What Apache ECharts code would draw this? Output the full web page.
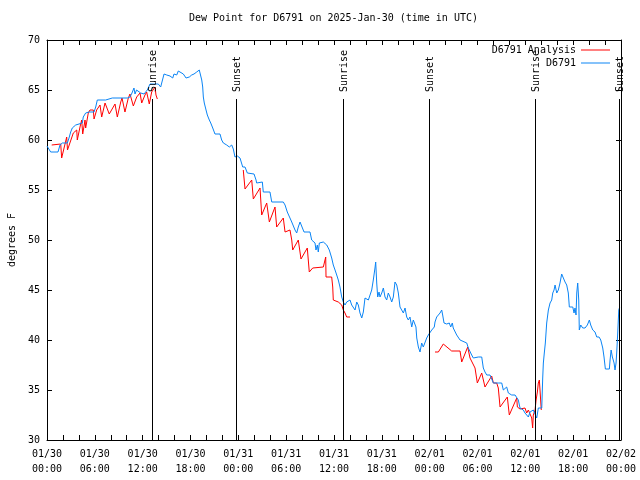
<!DOCTYPE html>
<html>
<head>
<meta charset="utf-8">
<script src="https://cdn.jsdelivr.net/npm/echarts@6/dist/echarts.min.js"></script>
<style>html,body{margin:0;padding:0;background:#fff}#c{width:640px;height:480px}</style>
</head>
<body>
<div id="c"></div>
<script>
// Time in hours since 2025-01-30 00:00 UTC, dew point in degrees F
const startUTC = Date.UTC(2025, 0, 30);
const stationPoints = [[0,59.4],[0.16,59.4],[0.46,58.8],[1.0,58.8],[1.22,59.0],[1.38,58.8],[1.63,59.5],[1.92,59.7],[2.55,59.7],[2.76,60.2],[2.97,60.8],[3.17,61.2],[3.6,61.5],[3.8,61.7],[4.43,61.7],[4.55,62.3],[4.85,62.7],[5.27,62.8],[5.9,62.8],[6.11,63.3],[6.31,64.0],[7.36,64.0],[7.56,64.2],[8.19,64.2],[8.4,64.4],[10.07,64.2],[10.41,64.3],[10.66,64.7],[10.91,65.2],[11.04,64.6],[11.23,65.0],[11.45,65.2],[11.75,64.7],[11.95,64.8],[12.17,64.6],[12.58,65.0],[12.92,65.6],[13.33,65.6],[13.96,65.6],[14.26,65.3],[14.49,65.3],[14.68,66.6],[15.02,66.5],[15.43,66.4],[15.77,66.2],[15.93,66.6],[16.27,66.5],[16.47,66.9],[16.68,66.7],[17.1,66.6],[17.44,66.2],[17.6,66.0],[17.85,66.3],[18.15,66.5],[18.44,66.6],[18.78,66.8],[19.1,67.0],[19.28,66.8],[19.41,66.0],[19.53,65.3],[19.61,64.3],[19.73,63.7],[19.95,63.0],[20.11,62.5],[20.36,62.0],[20.54,61.7],[20.79,61.2],[21.07,60.6],[21.7,60.6],[21.91,60.0],[22.12,59.7],[22.54,59.5],[22.87,59.3],[23.17,59.5],[23.37,59.1],[23.58,58.3],[23.87,58.4],[24.21,58.2],[24.42,58.0],[24.55,57.3],[24.84,57.3],[25.13,56.7],[25.97,56.6],[26.22,56.0],[26.3,55.7],[26.51,55.8],[27.01,55.8],[27.13,54.8],[27.97,54.8],[28.19,53.8],[29.64,53.8],[29.86,53.5],[30.14,52.8],[30.39,52.7],[30.7,51.8],[30.9,51.7],[31.11,51.0],[31.32,50.7],[31.52,51.3],[31.74,51.8],[31.95,51.7],[32.24,50.8],[32.99,50.8],[33.2,50.0],[33.4,50.0],[33.62,49.7],[33.74,49.0],[33.91,49.5],[34.03,48.8],[34.16,49.7],[34.33,49.8],[34.66,49.8],[35.09,49.5],[35.41,49.0],[35.71,48.2],[35.91,47.5],[36.13,47.0],[36.34,46.5],[36.54,46.0],[36.75,45.3],[36.97,44.3],[37.17,43.8],[37.38,43.5],[37.59,43.8],[37.8,43.6],[38.01,44.0],[38.22,43.5],[38.42,43.7],[38.64,43.0],[38.85,43.8],[39.05,43.5],[39.26,42.7],[39.48,42.2],[39.68,42.8],[39.89,44.2],[40.1,44.0],[40.31,44.0],[40.52,44.2],[40.73,45.0],[40.93,46.0],[41.14,47.2],[41.23,47.8],[41.36,45.7],[41.48,44.3],[41.65,44.8],[41.77,44.3],[41.99,44.7],[42.19,45.2],[42.4,44.3],[42.61,44.0],[42.81,44.7],[43.03,44.3],[43.24,43.8],[43.44,44.3],[43.65,45.8],[43.87,45.5],[44.07,44.7],[44.28,43.3],[44.49,43.0],[44.7,42.7],[44.91,43.2],[45.12,42.3],[45.32,42.0],[45.53,42.3],[45.75,41.3],[45.95,42.0],[46.16,42.2],[46.28,41.3],[46.38,40.2],[46.58,39.3],[46.79,38.8],[47.0,39.7],[47.2,39.3],[47.42,39.3],[47.63,40.2],[47.83,40.5],[48.26,41.0],[48.58,41.3],[48.67,41.8],[48.88,42.3],[49.09,42.5],[49.3,42.7],[49.51,43.0],[49.63,42.5],[49.8,41.7],[50.14,41.6],[50.46,41.7],[50.64,41.3],[50.84,41.7],[50.96,41.2],[51.18,41.0],[51.39,40.5],[51.59,40.3],[51.81,40.0],[52.02,39.8],[52.65,39.7],[52.85,39.2],[53.06,39.0],[53.27,38.5],[53.48,38.2],[53.69,38.0],[54.1,38.3],[54.32,38.2],[54.53,38.3],[54.73,37.2],[54.94,36.8],[55.16,36.5],[55.57,36.5],[55.99,35.7],[56.61,35.7],[56.83,35.5],[57.04,35.7],[57.24,35.0],[57.45,34.8],[57.66,35.3],[57.87,34.7],[58.08,34.7],[58.29,34.5],[58.71,34.5],[58.92,34.7],[59.12,34.0],[59.33,33.2],[59.55,33.2],[59.75,33.0],[59.96,32.7],[60.17,32.8],[60.38,32.3],[60.59,32.8],[60.8,32.8],[61.0,33.0],[61.22,33.2],[61.43,32.2],[61.63,33.2],[61.84,33.0],[62.06,33.2],[62.18,36.2],[62.26,37.7],[62.38,38.7],[62.51,39.7],[62.68,41.7],[62.89,43.0],[63.1,43.7],[63.31,44.0],[63.44,44.7],[63.6,45.0],[63.73,45.5],[63.85,45.7],[63.94,44.7],[64.14,45.0],[64.35,45.7],[64.56,46.6],[64.77,46.2],[64.98,45.8],[65.19,45.5],[65.39,44.7],[65.52,43.3],[65.69,43.2],[65.95,43.3],[66.11,42.7],[66.23,43.2],[66.36,42.5],[66.45,44.7],[66.57,45.7],[66.7,44.0],[66.77,41.0],[66.95,41.5],[67.2,41.2],[67.49,41.2],[67.78,41.5],[68.03,42.0],[68.2,41.5],[68.46,41.0],[68.74,40.8],[68.96,40.3],[69.25,40.3],[69.46,40.0],[69.71,39.2],[69.87,38.3],[70.04,37.1],[70.54,37.1],[70.63,38.0],[70.76,39.0],[70.92,38.3],[71.13,37.7],[71.25,37.0],[71.38,37.7],[71.46,38.7],[71.59,40.7],[71.72,43.0],[71.84,43.3]];

const analysisPart1 = [[0.59,59.5],[1.72,59.6],[1.84,58.2],[2.47,60.3],[2.57,59.0],[3.30,60.7],[3.73,61.0],[3.80,60.0],[4.14,61.3],[4.35,62.0],[4.48,60.6],[4.77,62.0],[4.85,61.2],[5.18,62.7],[5.39,63.0],[5.81,63.0],[5.90,62.1],[6.23,63.0],[6.65,63.5],[6.86,62.3],[7.28,63.7],[7.53,63.8],[7.81,62.6],[8.53,63.6],[8.82,62.3],[9.25,63.8],[9.41,64.2],[9.78,62.8],[10.20,64.2],[10.41,64.6],[10.83,63.4],[11.25,64.3],[11.67,64.7],[11.88,63.7],[12.29,64.5],[12.50,64.8],[12.83,63.6],[13.13,64.8],[13.55,65.3],[13.67,64.5],[13.84,64.1]];
const analysisPart2 = [[24.62,57.0],[24.84,55.1],[25.68,56.0],[25.88,54.1],[26.72,55.2],[26.93,52.5],[27.56,53.7],[27.89,51.8],[28.60,53.3],[28.81,51.3],[29.64,52.2],[29.86,50.8],[30.48,51.0],[30.70,50.0],[30.82,49.0],[31.52,50.0],[31.86,48.1],[32.65,49.2],[32.90,46.8],[33.33,47.2],[34.66,47.3],[34.96,48.3],[35.0,46.3],[35.71,46.3],[35.84,45.3],[35.91,44.0],[36.54,43.8],[36.97,43.5],[37.17,43.0],[37.38,42.7],[37.59,42.3],[38.01,42.3]];
const analysisPart3 = [[48.67,38.8],[49.09,38.8],[49.71,39.6],[49.92,39.5],[50.76,38.9],[51.81,38.9],[52.02,37.8],[52.77,39.3],[53.06,38.2],[53.69,37.2],[53.9,37.3],[53.98,35.7],[54.53,36.7],[54.69,36.7],[54.94,35.3],[55.78,36.4],[55.99,35.7],[56.41,35.7],[56.61,35.2],[56.83,33.3],[57.74,34.3],[57.99,32.5],[58.92,34.2],[59.0,33.3],[59.33,33.1],[59.96,33.2],[60.17,32.7],[60.38,33.0],[60.59,33.0],[60.8,32.2],[60.92,31.2],[61.0,32.5],[61.22,33.0],[61.35,34.0],[61.51,34.8],[61.63,35.7],[61.76,36.0],[61.93,36.0],[62.0,33.0]];

const sunHours = [13.21, 23.75, 37.17, 47.88, 61.25, 71.79];
const sunLabels = ['Sunrise', 'Sunset', 'Sunrise', 'Sunset', 'Sunrise', 'Sunset'];
const sunLineTop = 64.1;
const yTicks = [30, 35, 40, 45, 50, 55, 60, 65, 70];

const FONT = 'DejaVu Sans Mono';
const analysisData = analysisPart1.concat([[14, '-']], analysisPart2, [[40, '-']], analysisPart3);

function pad(n) { return String(n).padStart(2, '0'); }
function fmtHour(v) {
  const d = new Date(startUTC + v * 3600000);
  return pad(d.getUTCMonth() + 1) + '/' + pad(d.getUTCDate()) + '\n' + pad(d.getUTCHours()) + ':' + pad(d.getUTCMinutes());
}

const chart = echarts.init(document.getElementById('c'), null, { renderer: 'canvas' });
const axisLineStyle = { color: '#000', width: 1 };
chart.setOption({
  animation: false,
  backgroundColor: '#fff',
  textStyle: { fontFamily: FONT },
  title: {
    text: 'Dew Point for D6791 on 2025-Jan-30 (time in UTC)',
    left: 189, top: 13, padding: 0,
    textStyle: { fontFamily: FONT, fontSize: 10, fontWeight: 'normal', color: '#000' }
  },
  legend: [
    { data: ['D6791 Analysis'], right: 30, top: 45, padding: 0, align: 'right', icon: 'rect', itemWidth: 29, itemHeight: 1, itemGap: 0,
      textStyle: { fontFamily: FONT, fontSize: 10, color: '#000' } },
    { data: ['D6791'], right: 30, top: 58, padding: 0, align: 'right', icon: 'rect', itemWidth: 29, itemHeight: 1, itemGap: 0,
      textStyle: { fontFamily: FONT, fontSize: 10, color: '#000' } }
  ],
  grid: { left: 47, right: 19, top: 40, bottom: 40, containLabel: false, outerBoundsMode: 'none' },
  xAxis: [
    { type: 'value', min: 0, max: 72, interval: 6, position: 'bottom',
      axisLine: { show: true, onZero: false, lineStyle: axisLineStyle },
      axisTick: { show: true, inside: true, length: 5, lineStyle: axisLineStyle },
      minorTick: { show: true, splitNumber: 3, length: 5, lineStyle: axisLineStyle },
      splitLine: { show: false }, minorSplitLine: { show: false },
      axisLabel: { formatter: fmtHour, fontFamily: FONT, fontSize: 10, color: '#000', lineHeight: 15, margin: 7, showMinLabel: true, showMaxLabel: true, hideOverlap: false }
    },
    { type: 'value', min: 0, max: 72, interval: 6, position: 'top',
      axisLine: { show: true, onZero: false, lineStyle: axisLineStyle },
      axisTick: { show: true, inside: true, length: 5, lineStyle: axisLineStyle },
      minorTick: { show: true, splitNumber: 3, length: 5, lineStyle: axisLineStyle },
      splitLine: { show: false }, axisLabel: { show: false }
    }
  ],
  yAxis: [
    { type: 'value', min: yTicks[0], max: yTicks[yTicks.length - 1], interval: 5, position: 'left',
      name: 'degrees F', nameLocation: 'middle', nameGap: 30, nameRotate: 90,
      nameTextStyle: { fontFamily: FONT, fontSize: 10, color: '#000' },
      axisLine: { show: true, onZero: false, lineStyle: axisLineStyle },
      axisTick: { show: true, inside: true, length: 5, lineStyle: axisLineStyle },
      splitLine: { show: false },
      axisLabel: { fontFamily: FONT, fontSize: 10, color: '#000', margin: 7 }
    },
    { type: 'value', min: yTicks[0], max: yTicks[yTicks.length - 1], interval: 5, position: 'right',
      axisLine: { show: true, onZero: false, lineStyle: axisLineStyle },
      axisTick: { show: true, inside: true, length: 5, lineStyle: axisLineStyle },
      splitLine: { show: false }, axisLabel: { show: false }
    }
  ],
  series: [
    { name: 'D6791 Analysis', type: 'line', data: analysisData, color: '#ff0000', showSymbol: false, symbol: 'none',
      lineStyle: { width: 1, color: '#ff0000' }, connectNulls: false, z: 3 },
    { name: 'D6791', type: 'line', data: stationPoints, color: '#0a84f5', showSymbol: false, symbol: 'none',
      lineStyle: { width: 1, color: '#0a84f5' }, z: 4 },
    { name: 'sun', type: 'custom', z: 5, silent: true,
      data: sunHours.map(h => [h, sunLineTop]),
      renderItem: function (params, api) {
        const top = api.coord([api.value(0), api.value(1)]);
        const bot = api.coord([api.value(0), yTicks[0]]);
        const x = Math.round(top[0]) + 0.5;
        return { type: 'group', children: [
          { type: 'line', shape: { x1: x, y1: top[1], x2: x, y2: bot[1] }, style: { stroke: '#000', lineWidth: 1 } },
          { type: 'text', x: x + 1, y: top[1] - 7, rotation: Math.PI / 2,
            style: { text: sunLabels[params.dataIndex], font: '10px ' + FONT, fill: '#000', align: 'left', verticalAlign: 'middle' } }
        ] };
      }
    }
  ]
});
</script>
</body>
</html>
